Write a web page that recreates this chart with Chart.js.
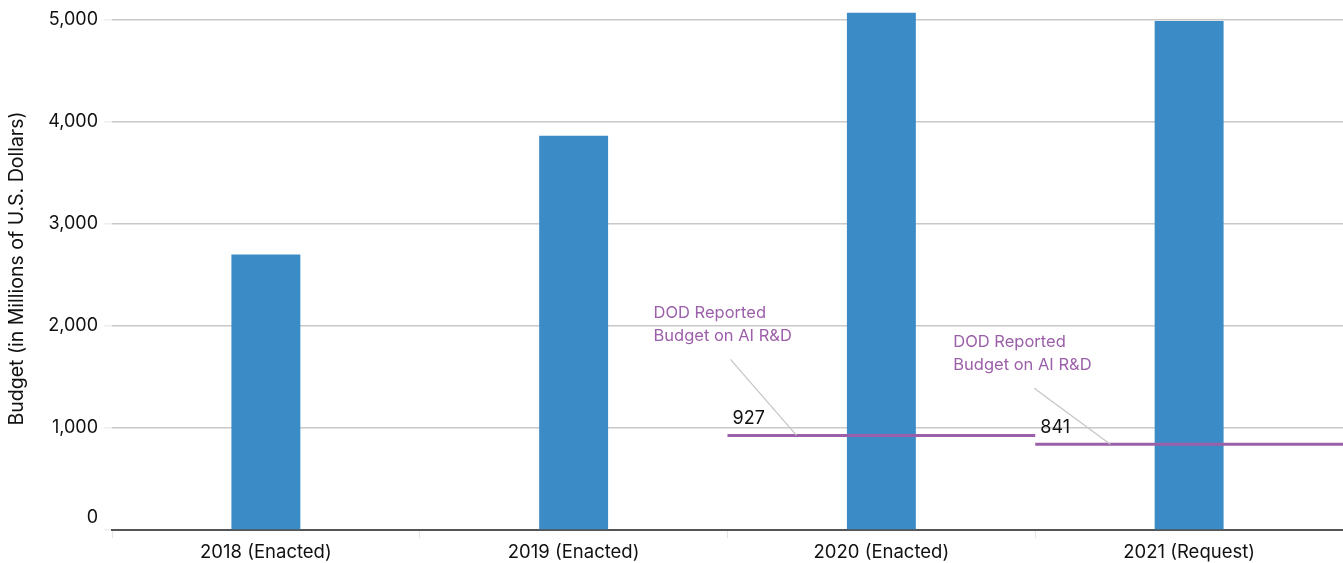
<!DOCTYPE html>
<html>
<head>
<meta charset="utf-8">
<script src="https://cdn.jsdelivr.net/npm/chart.js@4"></script>
<style>
    html, body { margin: 0; padding: 0; background: #fff; }
    #wrap { width: 1343px; height: 563px; }
</style>
</head>
<body>
<div id="wrap"><canvas id="chart"></canvas></div>
<script>
// ==== DATA ====
const categories = ["2018 (Enacted)", "2019 (Enacted)", "2020 (Enacted)", "2021 (Request)"];
const totalBudget = [2700, 3865, 5070, 4990];
const dodAiIndex = [2, 3];          // categories with DOD reported AI R&D
const dodAiBudget = [927, 841];
const yTicks = [0, 1000, 2000, 3000, 4000, 5000];

const BLUE = "#3b8cc6";
const PURPLE = "#9c5fa9";
const FONT = "Inter, 'Noto Sans', sans-serif";

// segment spanning the whole category slot
const segments = dodAiIndex.map((idx, i) => ({
    type: "line",
    xAxisID: "x2",
    order: 1,
    data: [{ x: idx - 0.5, y: dodAiBudget[i] }, { x: idx + 0.5, y: dodAiBudget[i] }],
    borderColor: PURPLE,
    borderWidth: 3,
    pointRadius: 0,
    fill: false
}));

// ===== LABELS / CALLOUTS =====
const calloutPlugin = {
    id: "callouts",
    afterDatasetsDraw(chart) {
        const ctx = chart.ctx;
        const x2 = chart.scales.x2, y = chart.scales.y;
        const offsets = [
            { tx: -74, ty: -122, lx1: 3, ly1: -76, lx2: 69 },
            { tx: -82, ty: -102, lx1: -1, ly1: -56, lx2: 75 }
        ];
        ctx.save();

        // zero label sits a bit above the axis line
        ctx.font = "18px " + FONT;
        ctx.fillStyle = "#111";
        ctx.textAlign = "right";
        ctx.textBaseline = "middle";
        ctx.fillText("0", y.right - 14, y.getPixelForValue(0) - 12);

        dodAiIndex.forEach((idx, i) => {
            const xs = x2.getPixelForValue(idx - 0.5);
            const yl = y.getPixelForValue(dodAiBudget[i]);
            const o = offsets[i];

            // leader line
            ctx.strokeStyle = "#c6c6c6";
            ctx.lineWidth = 1.3;
            ctx.beginPath();
            ctx.moveTo(xs + o.lx1, yl + o.ly1);
            ctx.lineTo(xs + o.lx2, yl);
            ctx.stroke();

            // value label
            ctx.font = "18px " + FONT;
            ctx.fillStyle = "#111";
            ctx.textBaseline = "middle";
            ctx.textAlign = "left";
            ctx.fillText(String(dodAiBudget[i]), xs + 5, yl - 17);

            // series label
            ctx.font = "16.5px " + FONT;
            ctx.fillStyle = PURPLE;
            ctx.fillText("DOD Reported", xs + o.tx, yl + o.ty);
            ctx.fillText("Budget on AI R&D", xs + o.tx, yl + o.ty + 23);
        });
        ctx.restore();
    }
};

new Chart(document.getElementById("chart"), {
    type: "bar",
    data: {
        labels: categories,
        datasets: [{
            label: "Budget",
            data: totalBudget,
            backgroundColor: BLUE,
            grouped: false,
            categoryPercentage: 1,
            barPercentage: 0.224,
            order: 2
        }, ...segments]
    },
    options: {
        responsive: true,
        maintainAspectRatio: false,
        animation: false,
        layout: { padding: 0 },
        plugins: { legend: { display: false }, tooltip: { enabled: false } },
        scales: {
            x: {
                offset: true,
                grid: {
                    offset: true,
                    drawOnChartArea: false,
                    tickLength: 8,
                    color: "#e4e4e4"
                },
                border: { color: "#555", width: 2 },
                ticks: { color: "#111", font: { family: FONT, size: 18.5, lineHeight: 1 }, padding: 5, maxRotation: 0 },
                afterFit: s => { s.height = 33; }
            },
            x2: {
                type: "linear",
                display: false,
                offset: false,
                min: -0.5,
                max: 3.5
            },
            y: {
                min: 0,
                max: 5127,
                afterBuildTicks: s => { s.ticks = yTicks.map(v => ({ value: v })); },
                grid: { color: "#c8c8c8", lineWidth: 1.5, tickLength: 8, tickColor: "#eeeeee" },
                border: { display: false },
                ticks: {
                    color: "#111",
                    padding: 6,
                    font: { family: FONT, size: 18, lineHeight: 0.1 },
                    callback: v => v === 0 ? "" : v.toLocaleString("en-US")
                },
                title: {
                    display: true,
                    text: "Budget (in Millions of U.S. Dollars)",
                    color: "#111",
                    font: { family: FONT, size: 19.5 },
                    padding: { top: 5, bottom: 4 }
                },
                afterFit: s => { s.width = 112; }
            }
        }
    },
    plugins: [calloutPlugin]
});
</script>
</body>
</html>
